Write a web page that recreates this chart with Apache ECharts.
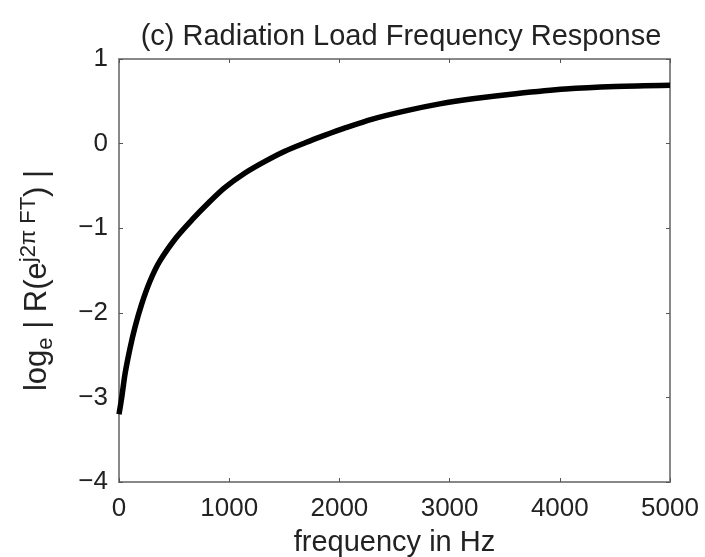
<!DOCTYPE html>
<html>
<head>
<meta charset="utf-8">
<script src="https://cdn.jsdelivr.net/npm/echarts@6/dist/echarts.min.js"></script>
<style>html,body{margin:0;padding:0;background:#fff;}#c{width:705px;height:557px;}</style>
</head>
<body>
<div id="c"></div>
<script>
const freqHz = [0, 25, 55, 100, 145, 205, 280, 370, 520, 670, 820, 960, 1140, 1325, 1505, 1690, 1870, 2040, 2300, 2610, 2910, 3210, 3600, 4050, 4500, 5000];
const logMag = [-3.2, -3.0, -2.72, -2.42, -2.17, -1.90, -1.63, -1.39, -1.11, -0.89, -0.69, -0.52, -0.35, -0.21, -0.09, 0.01, 0.10, 0.18, 0.29, 0.39, 0.47, 0.53, 0.59, 0.645, 0.675, 0.69];
const xTicks = [0, 1000, 2000, 3000, 4000, 5000];
const yTicks = [-4, -3, -2, -1, 0, 1];
const titleText = '(c) Radiation Load Frequency Response';
const xName = 'frequency in Hz';

const chart = echarts.init(document.getElementById('c'));
const FONT = '"Liberation Sans", Arial, sans-serif';
const axisCol = '#888888';
const tickCol = '#555';
const txtCol = '#222';
const common = {
  axisLine: {show: true, onZero: false, lineStyle: {color: axisCol, width: 2}},
  axisTick: {show: true, inside: true, length: 4, lineStyle: {color: tickCol, width: 1}},
  splitLine: {show: false}
};
const data = freqHz.map((f, i) => [f, logMag[i]]);
chart.setOption({
  animation: false,
  backgroundColor: '#fff',
  title: {text: titleText, left: 396, top: 17, textAlign: 'center',
    textStyle: {fontFamily: FONT, fontSize: 29, fontWeight: 'normal', color: txtCol}},
  grid: {left: 119, right: 35, top: 59, bottom: 75, containLabel: false, outerBoundsMode: 'none'},
  xAxis: [
    Object.assign({type: 'value', min: xTicks[0], max: xTicks[xTicks.length-1], interval: 1000, position: 'bottom',
      name: xName, nameLocation: 'middle', nameGap: 46,
      nameTextStyle: {fontFamily: FONT, fontSize: 29, color: txtCol},
      axisLabel: {fontFamily: FONT, fontSize: 26, color: txtCol, margin: 14, formatter: v => String(v)}}, common),
    Object.assign({type: 'value', min: xTicks[0], max: xTicks[xTicks.length-1], interval: 1000, position: 'top',
      axisLabel: {show: false}}, common)
  ],
  yAxis: [
    Object.assign({type: 'value', min: yTicks[0], max: yTicks[yTicks.length-1], interval: 1, position: 'left',
      name: '{n|log}{sub|e}{n| | R(e}{sup|j2π FT}{n|) |}', nameLocation: 'middle', nameGap: 62, nameRotate: 90,
      nameTextStyle: {padding: [0, 20, 0, 0], rich: {
        n: {fontFamily: FONT, fontSize: 31, color: txtCol},
        sub: {fontFamily: FONT, fontSize: 22, color: txtCol, padding: [17, 0, 0, 0]},
        sup: {fontFamily: FONT, fontSize: 22, color: txtCol, padding: [0, 0, 17, 0]}
      }},
      axisLabel: {fontFamily: FONT, fontSize: 26, color: txtCol, margin: 11,
        formatter: v => (v < 0 ? '\u2212' + Math.abs(v) : String(v))}}, common),
    Object.assign({type: 'value', min: yTicks[0], max: yTicks[yTicks.length-1], interval: 1, position: 'right',
      axisLabel: {show: false}}, common)
  ],
  series: [{
    type: 'line', data: data, smooth: 0.3, showSymbol: false,
    lineStyle: {color: '#000', width: 5.5}, xAxisIndex: 0, yAxisIndex: 0
  }]
});
</script>
</body>
</html>
